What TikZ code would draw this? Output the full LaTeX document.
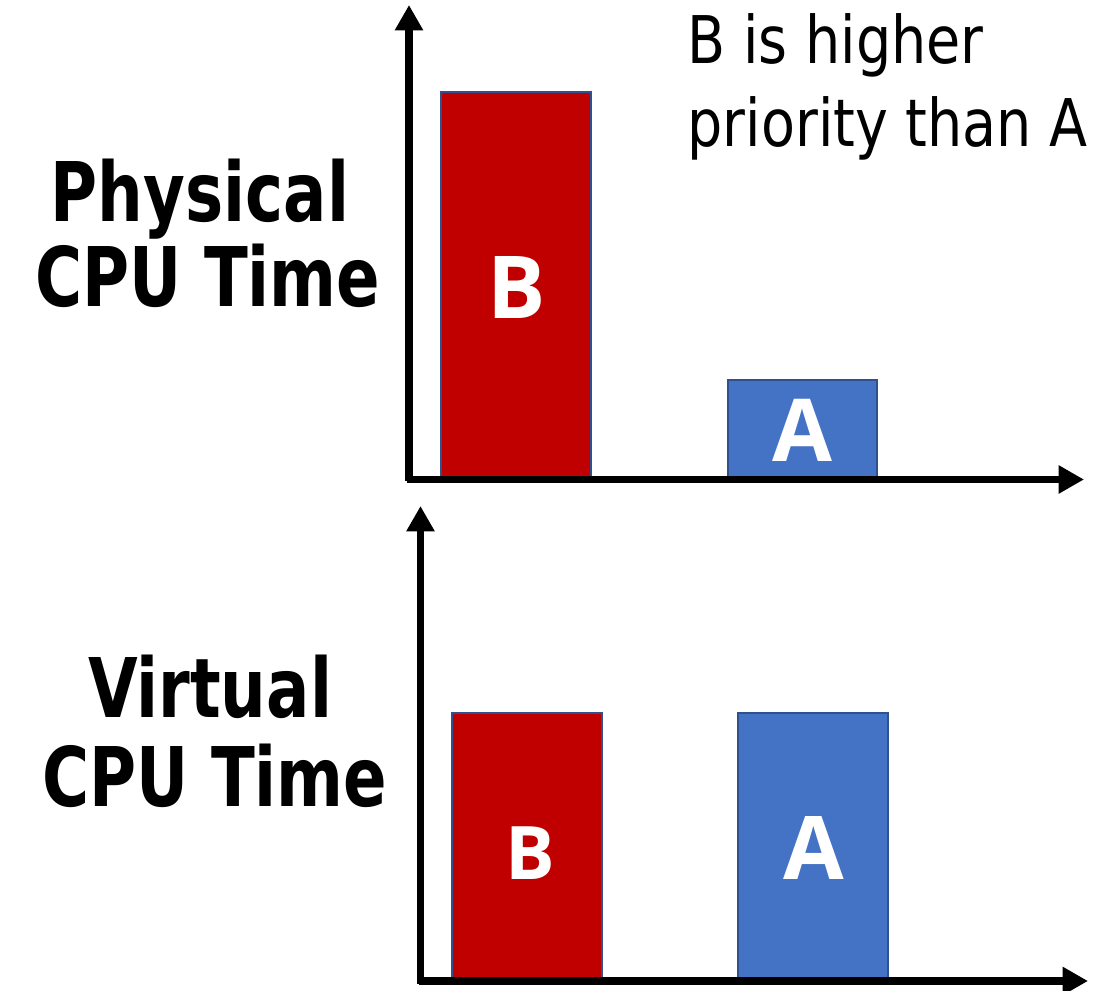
\documentclass[tikz,border=0pt]{standalone}
\usepackage{fontspec}
\usetikzlibrary{arrows.meta}
\newfontfamily\axisfont[FakeStretch=0.78]{DejaVu Sans}
\newfontfamily\notefont[FakeStretch=0.845]{DejaVu Sans}
\newfontfamily\barfont{Open Sans}
\definecolor{barred}{HTML}{C00000}
\definecolor{barblue}{HTML}{4472C4}
\definecolor{baredge}{HTML}{2F528F}

\begin{document}
\begin{tikzpicture}[x=0.01cm,y=-0.01cm,
  axis/.style={line width=2pt,-{Triangle[length=7.2pt,width=7.6pt]}},
  barB/.style={fill=barred,draw=baredge,line width=0.6pt},
  barA/.style={fill=barblue,draw=baredge,line width=0.8pt},
  ylab/.style={anchor=base,inner sep=0pt,font=\axisfont\bfseries\fontsize{23.4}{28}\selectfont},
  note/.style={anchor=base west,inner sep=0pt,font=\notefont\fontsize{18.7}{22}\selectfont},
  tag/.style={anchor=base,inner sep=0pt,text=white}]
\useasboundingbox (0,0) rectangle (1117,991);

% physical time
\coordinate (o1) at (409,481);
\coordinate (y1) at (409,5);
\coordinate (s1) at (407,479.5);
\coordinate (x1) at (1084,479.5);
\draw[barB] (441,92) rectangle (591,477);
\draw[barA] (728,380) rectangle (877,477);
\draw[axis] (o1) -- (y1);
\draw[axis] (s1) -- (x1);
\node[tag,font=\barfont\bfseries\fontsize{24.7}{30}\selectfont] (pB) at (517,319) {B};
\node[tag,font=\barfont\bfseries\fontsize{24.7}{30}\selectfont] (pA) at (802,462) {A};
\node[ylab] (phys1) at (200,222) {Physical};
\node[ylab] (phys2) at (208,307) {CPU Time};

\node[note] (note1) at (687,64) {B is higher};
\node[note] (note2) at (687,147) {priority than A};

% virtual time
\coordinate (o2) at (420.5,984);
\coordinate (y2) at (420.5,506);
\coordinate (s2) at (419,981);
\coordinate (x2) at (1088,981);
\draw[barB] (452,713) rectangle (602,979);
\draw[barA] (738,713) rectangle (888,979);
\draw[axis] (o2) -- (y2);
\draw[axis] (s2) -- (x2);
\node[tag,font=\barfont\bfseries\fontsize{21}{26}\selectfont] (vB) at (530,880) {B};
\node[tag,font=\barfont\bfseries\fontsize{25}{30}\selectfont] (vA) at (814,880) {A};
\node[ylab] (virt1) at (210,718) {Virtual};
\node[ylab] (virt2) at (215,807) {CPU Time};
\end{tikzpicture}
\end{document}
